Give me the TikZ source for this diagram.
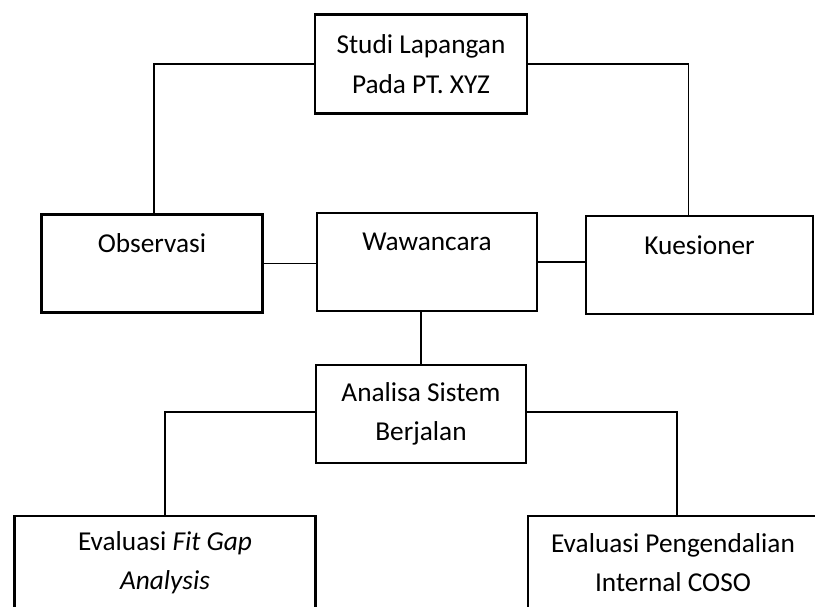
\documentclass[tikz,border=0pt]{standalone}
\usepackage{fontspec}
\setmainfont{Carlito}
\begin{document}
\begin{tikzpicture}[x=1pt,y=-1pt,
  font=\fontsize{27.3}{39.5}\selectfont,
  box/.style={draw, line width=2.5pt, rectangle, inner sep=0pt, align=center},
  link/.style={line width=1.3pt}]
\clip (0,0) rectangle (815,606);
\node[box, minimum width=212pt, minimum height=99pt] (top) at (421,64) {Studi Lapangan\\Pada PT. XYZ};
\node[box, minimum width=221pt, minimum height=98pt,
  label={[anchor=center,yshift=-30pt]north:Observasi}] (obs) at (152,263.5) {};
\node[box, minimum width=220pt, minimum height=98pt,
  label={[anchor=center,yshift=-30pt]north:Wawancara}] (waw) at (427,262) {};
\node[box, minimum width=227pt, minimum height=98pt,
  label={[anchor=center,yshift=-30pt]north:Kuesioner}] (kue) at (699.5,265) {};
\node[box, minimum width=210pt, minimum height=98pt] (ana) at (421,414) {Analisa Sistem\\Berjalan};
\node[box, minimum width=301pt, minimum height=140pt,
  label={[anchor=center,align=center,yshift=-48pt]north:Evaluasi \textit{Fit Gap}\\\textit{Analysis}}] (fit) at (165,586) {};
\node[box, minimum width=290pt, minimum height=140pt,
  label={[anchor=center,align=center,yshift=-48pt]north:Evaluasi Pengendalian\\Internal COSO}] (eva) at (673,586) {};
\draw[link] (top.west) -| ([xshift=2pt]obs.north);
\draw[link] (top.east) -| ([xshift=-11pt]kue.north);
\draw[link] (obs.east) -- (obs.east -| waw.west);
\draw[link] (waw.east) -- (waw.east -| kue.west);
\draw[link] (ana.north |- waw.south) -- (ana.north);
\draw[link] ([yshift=2pt]ana.west) -| (fit.north);
\draw[link] ([yshift=2pt]ana.east) -| ([xshift=4pt]eva.north);
\end{tikzpicture}
\end{document}
